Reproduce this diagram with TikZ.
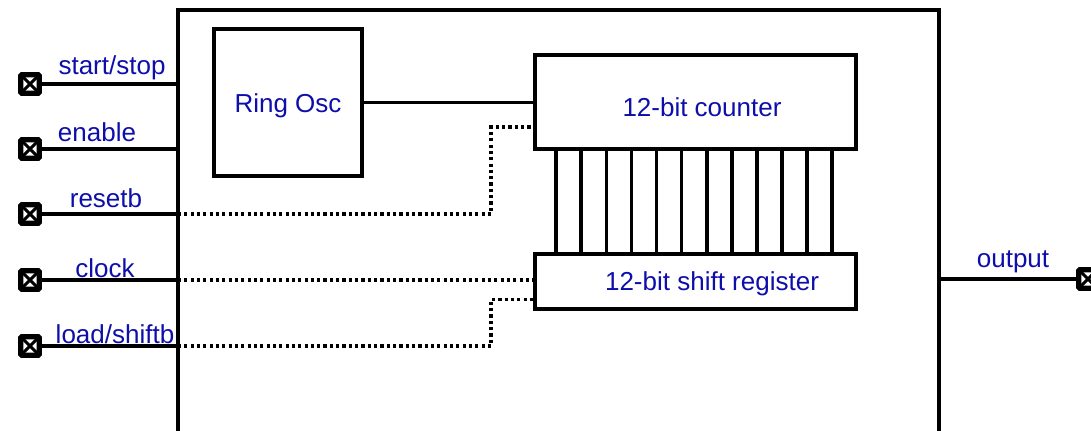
\documentclass[tikz,border=0pt]{standalone}
\usepackage{fontspec}
\setmainfont{Liberation Sans}
\usepackage{xcolor}
\usepackage{tikz}
\definecolor{sigblue}{RGB}{14,14,170}

\tikzset{
  wire/.style={line width=2.1pt},
  ctrl/.style={line width=2.1pt,dash pattern=on 1.8pt off 1.8pt},
  block/.style={draw,line width=2.1pt,fill=white,text=sigblue,
    font=\fontsize{14.8}{17}\selectfont},
  sig/.style={text=sigblue,font=\fontsize{14.8}{17}\selectfont,inner sep=0pt},
  pad/.style={draw,line width=3pt,fill=white,minimum size=0.37cm,inner sep=0pt,
    rounded corners=0.6pt,
    path picture={\draw[line width=1.7pt]
      (path picture bounding box.north west)--(path picture bounding box.south east)
      (path picture bounding box.north east)--(path picture bounding box.south west);}}
}

\begin{document}
\begin{tikzpicture}[x=0.02cm,y=-0.02cm]
  \useasboundingbox[fill=white] (0,0) rectangle (1091,430);
  % chip outline, runs off the bottom
  \coordinate (chipL) at (178,10);
  \coordinate (chipR) at (939,10);
  \draw[wire] (178,445) -- (chipL) -- (chipR) -- (939,445);

  \node[block,minimum width=2.96cm,minimum height=2.94cm,
    label={[sig,yshift=-0.07cm]center:Ring Osc}] (osc) at (288,102.5) {};
  \node[block,minimum width=6.42cm,minimum height=1.88cm,
    label={[sig,xshift=0.13cm,yshift=-0.11cm]center:12-bit counter}] (cnt) at (695.5,102) {};
  \node[block,minimum width=6.42cm,minimum height=1.1cm,
    label={[sig,xshift=0.33cm,yshift=-0.05cm]center:12-bit shift register}] (shreg) at (695.5,281.5) {};

  % 12 parallel load lines
  \foreach \i in {0,...,11}{
    \draw[wire] ([xshift={0.46cm+\i*0.5018cm}]cnt.south west)
      -- ([xshift={0.46cm+\i*0.5018cm}]shreg.north west);
  }
  \draw[wire] (osc.east) -- (osc.east -| cnt.west);

  % input pads
  \foreach \p/\y/\lx/\ly/\txt in {pstart/84/112/68/start\slash stop,
      pen/149/97/132/enable,
      preset/214/106/198/resetb,
      pclock/280/105/268/clock,
      pload/346/115/334/load\slash shiftb}{
    \node[pad] (\p) at (30,\y) {};
    \node[sig] (\p-lbl) at (\lx,\ly) {\txt};
    \draw[wire] (\p) -- (\p -| chipL);
  }

  \draw[ctrl] (preset -| chipL) -| ([xshift=-0.84cm,yshift=-0.5cm]cnt.west)
    -- ([yshift=-0.5cm]cnt.west);
  \draw[ctrl] (pclock -| chipL) -- (pclock -| shreg.west);
  \draw[ctrl] (pload -| chipL) -| ([xshift=-0.84cm,yshift=-0.36cm]shreg.west)
    -- ([yshift=-0.36cm]shreg.west);

  % output pad
  \node[pad] (pout) at (1088,279) {};
  \node[sig] (pout-lbl) at (1013,262) {output};
  \draw[wire] (pout -| chipR) -- (pout);
\end{tikzpicture}
\end{document}
